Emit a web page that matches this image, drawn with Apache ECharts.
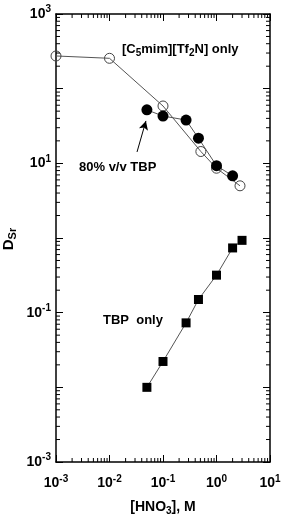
<!DOCTYPE html>
<html><head><meta charset="utf-8">
<script src="https://cdn.jsdelivr.net/npm/echarts@6/dist/echarts.min.js"></script>
<style>html,body{margin:0;padding:0;background:#fff}#c{width:283px;height:519px}</style>
</head><body><div id="c"></div>
<script>
// [C5mim][Tf2N] only (open circles)
const hno3Open = [0.001, 0.01, 0.1, 0.51, 1.0, 2.75];
const dOpen = [274, 255, 58.6, 14.4, 8.6, 5.0];
// 80% v/v TBP (filled circles)
const hno3Filled = [0.05, 0.1, 0.27, 0.46, 1.0, 2.0];
const dFilled = [52, 43, 38, 21.7, 9.3, 6.8];
// TBP only (filled squares)
const hno3Tbp = [0.05, 0.1, 0.27, 0.46, 1.0, 2.0, 3.0];
const dTbp = [0.010, 0.0222, 0.073, 0.15, 0.318, 0.736, 0.93];
// axis decades and minor-tick multipliers
const xDecades = [0.001, 0.01, 0.1, 1];
const yDecades = [0.001, 0.01, 0.1, 1, 10, 100];
const minorMult = [2, 3, 4, 5, 6, 7, 8, 9];

const FONT = '"Liberation Sans", Arial, sans-serif';
const zip = (a, b) => a.map((v, i) => [v, b[i]]);

const xMinor = [];
xDecades.forEach(d => minorMult.forEach(m => xMinor.push([d * m, 1])));
const yMinor = [];
yDecades.forEach(d => minorMult.forEach(m => yMinor.push([1, d * m])));

function expLabel(v) {
  const e = Math.round(Math.log10(v));
  return '{b|10}{s|' + e + '}';
}
function expLabelOdd(v) {
  const e = Math.round(Math.log10(v));
  if (Math.abs(e) % 2 === 0) return '';
  return '{b|10}{s|' + e + '}';
}
const labelRich = {
  b: {fontFamily: FONT, fontWeight: 'bold', fontSize: 14, color: '#000'},
  s: {fontFamily: FONT, fontWeight: 'bold', fontSize: 10, color: '#000', padding: [0, 0, 9, 0]}
};

const TL = 4;
function xTick(params, api) {
  const cs = params.coordSys;
  const x = api.coord([api.value(0), 1])[0];
  const yb = cs.y + cs.height, yt = cs.y;
  return {type: 'group', children: [
    {type: 'line', shape: {x1: x, y1: yb, x2: x, y2: yb - TL}, style: {stroke: '#000', lineWidth: 1}},
    {type: 'line', shape: {x1: x, y1: yt, x2: x, y2: yt + TL}, style: {stroke: '#000', lineWidth: 1}}
  ]};
}
function yTick(params, api) {
  const cs = params.coordSys;
  const y = api.coord([1, api.value(1)])[1];
  const xl = cs.x, xr = cs.x + cs.width;
  return {type: 'group', children: [
    {type: 'line', shape: {x1: xl, y1: y, x2: xl + TL, y2: y}, style: {stroke: '#000', lineWidth: 1}},
    {type: 'line', shape: {x1: xr, y1: y, x2: xr - TL, y2: y}, style: {stroke: '#000', lineWidth: 1}}
  ]};
}

const axisCommon = {
  type: 'log', logBase: 10,
  axisLine: {show: true, onZero: false, lineStyle: {color: '#000', width: 1.5}},
  axisTick: {show: true, inside: true, length: 7, lineStyle: {color: '#000', width: 1}},
  splitLine: {show: false}
};

const chart = echarts.init(document.getElementById('c'), null, {renderer: 'canvas'});
chart.setOption({
  animation: false,
  backgroundColor: '#fff',
  grid: {left: 56, right: 13, top: 14, bottom: 57, containLabel: false, outerBoundsMode: 'none'},
  xAxis: [
    Object.assign({}, axisCommon, {
      position: 'bottom', min: 0.001, max: 10, interval: 1,
      axisLabel: {margin: 12, formatter: expLabel, rich: labelRich},
      name: '{b|[HNO}{s|3}{b|], M}', nameLocation: 'middle', nameGap: 36,
      nameTextStyle: {rich: {
        b: {fontFamily: FONT, fontWeight: 'bold', fontSize: 14, color: '#000'},
        s: {fontFamily: FONT, fontWeight: 'bold', fontSize: 10, color: '#000', padding: [8, 0, 0, 0]}
      }}
    }),
    Object.assign({}, axisCommon, {
      position: 'top', min: 0.001, max: 10, interval: 1, axisLabel: {show: false}
    })
  ],
  yAxis: [
    Object.assign({}, axisCommon, {
      position: 'left', min: 0.001, max: 1000, interval: 1,
      axisLabel: {margin: 5, formatter: expLabelOdd, rich: labelRich}
    }),
    Object.assign({}, axisCommon, {
      position: 'right', min: 0.001, max: 1000, interval: 1, axisLabel: {show: false}
    })
  ],
  series: [
    {type: 'custom', coordinateSystem: 'cartesian2d', xAxisIndex: 0, yAxisIndex: 0, renderItem: xTick, data: xMinor, silent: true, clip: false, z: 10},
    {type: 'custom', coordinateSystem: 'cartesian2d', xAxisIndex: 0, yAxisIndex: 0, renderItem: yTick, data: yMinor, silent: true, clip: false, z: 10},
    {
      name: '[C5mim][Tf2N] only', type: 'line', data: zip(hno3Open, dOpen),
      symbol: 'circle', symbolSize: 10,
      itemStyle: {color: 'rgba(0,0,0,0)', borderColor: '#444', borderWidth: 1},
      lineStyle: {color: '#555', width: 1}, z: 3
    },
    {
      name: '80% v/v TBP', type: 'line', data: zip(hno3Filled, dFilled),
      symbol: 'circle', symbolSize: 11,
      itemStyle: {color: '#000', borderColor: '#000', borderWidth: 0},
      lineStyle: {color: '#555', width: 1}, z: 4,
      markLine: {
        silent: true, symbol: ['none', 'arrow'], symbolSize: [7, 9],
        lineStyle: {color: '#000', width: 1, type: 'solid'},
        label: {show: false},
        data: [[{coord: [0.0327, 14.2]}, {coord: [0.048, 37]}]]
      }
    },
    {
      name: 'TBP only', type: 'line', data: zip(hno3Tbp, dTbp),
      symbol: 'rect', symbolSize: 9,
      itemStyle: {color: '#000'},
      lineStyle: {color: '#555', width: 1}, z: 4
    }
  ],
  graphic: [
    {type: 'text', x: 9, y: 239, rotation: Math.PI / 2, style: {
      text: '{b|D}{s|Sr}', align: 'center', verticalAlign: 'middle',
      rich: {
        b: {fontFamily: FONT, fontWeight: 'bold', fontSize: 15, fill: '#000'},
        s: {fontFamily: FONT, fontWeight: 'bold', fontSize: 11, fill: '#000', padding: [8, 0, 0, 0]}
      }}},
    {type: 'text', left: 122, top: 43, style: {
      text: '{b|[C}{s|5}{b|mim][Tf}{s|2}{b|N] only}',
      rich: {
        b: {fontFamily: FONT, fontWeight: 'bold', fontSize: 13, fill: '#000'},
        s: {fontFamily: FONT, fontWeight: 'bold', fontSize: 10, fill: '#000', padding: [7, 0, 0, 0]}
      }}},
    {type: 'text', left: 79, top: 161, style: {
      text: '80% v/v TBP', fontFamily: FONT, fontWeight: 'bold', fontSize: 13, fill: '#000'}},
    {type: 'text', left: 103, top: 314, style: {
      text: 'TBP  only', fontFamily: FONT, fontWeight: 'bold', fontSize: 13, fill: '#000'}}
  ]
});
</script>
</body></html>
